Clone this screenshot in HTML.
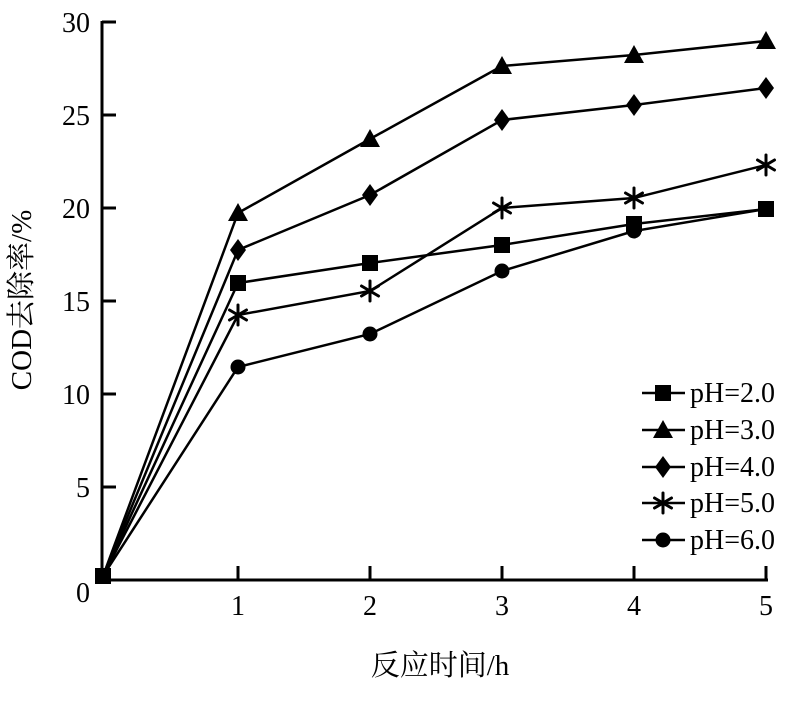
<!DOCTYPE html>
<html><head><meta charset="utf-8"><style>
html,body{margin:0;padding:0;background:#fff}
svg text{font-family:"Liberation Serif","Noto Serif CJK SC",serif;fill:#000}
</style></head><body>
<svg width="807" height="697" viewBox="0 0 807 697" xmlns="http://www.w3.org/2000/svg">
<defs>
<g id="sq"><rect x="-8" y="-8" width="16" height="16"/></g>
<g id="tri"><polygon points="0,-10 10,8 -10,8"/></g>
<g id="dia"><polygon points="0,-11 8,0 0,11 -8,0"/></g>
<g id="ast" stroke="#000" stroke-width="3" stroke-linecap="round"><line x1="0" y1="-10" x2="0" y2="10"/><line x1="-8.5" y1="-5" x2="8.5" y2="5"/><line x1="-8.5" y1="5" x2="8.5" y2="-5"/></g>
<g id="cir"><circle r="7.5"/></g>
</defs>
<g stroke="#000" stroke-width="3" fill="none">
<line x1="102" y1="21" x2="102" y2="580"/>
<line x1="100" y1="580" x2="768" y2="580"/>
<line x1="102" y1="22" x2="116" y2="22"/>
<line x1="102" y1="115" x2="116" y2="115"/>
<line x1="102" y1="208" x2="116" y2="208"/>
<line x1="102" y1="301" x2="116" y2="301"/>
<line x1="102" y1="394" x2="116" y2="394"/>
<line x1="102" y1="487" x2="116" y2="487"/>
<line x1="238" y1="566" x2="238" y2="580"/>
<line x1="370" y1="566" x2="370" y2="580"/>
<line x1="502" y1="566" x2="502" y2="580"/>
<line x1="634" y1="566" x2="634" y2="580"/>
<line x1="766" y1="566" x2="766" y2="580"/>
</g>
<g font-size="28" text-anchor="end">
<text x="90" y="32">30</text><text x="90" y="125">25</text><text x="90" y="218">20</text>
<text x="90" y="311">15</text><text x="90" y="404">10</text><text x="90" y="497">5</text><text x="90" y="602">0</text>
</g>
<g font-size="28" text-anchor="middle">
<text x="238" y="615">1</text><text x="370" y="615">2</text><text x="502" y="615">3</text><text x="634" y="615">4</text><text x="766" y="615">5</text>
<text x="440" y="675" font-size="29">反应时间/h</text>
<text transform="translate(31,300) rotate(-90)" font-size="29">COD去除率/%</text>
</g>
<g stroke="#000" stroke-width="2.5" fill="none">
<polyline points="103,576 238,283 370,263 502,245 634,224 766,209"/>
<polyline points="103,576 238,213 370,139 502,66 634,55 766,41"/>
<polyline points="103,576 238,250 370,195 502,120 634,105 766,88"/>
<polyline points="103,576 238,315 370,291 502,208 634,198 766,165"/>
<polyline points="103,576 238,367 370,334 502,271 634,231 766,209"/>
</g>
<use href="#sq" x="103" y="576"/>
<use href="#sq" x="238" y="283"/><use href="#sq" x="370" y="263"/><use href="#sq" x="502" y="245"/><use href="#sq" x="634" y="224"/><use href="#sq" x="766" y="209"/>
<use href="#tri" x="238" y="213"/><use href="#tri" x="370" y="139"/><use href="#tri" x="502" y="66"/><use href="#tri" x="634" y="55"/><use href="#tri" x="766" y="41"/>
<use href="#dia" x="238" y="250"/><use href="#dia" x="370" y="195"/><use href="#dia" x="502" y="120"/><use href="#dia" x="634" y="105"/><use href="#dia" x="766" y="88"/>
<use href="#ast" x="238" y="315"/><use href="#ast" x="370" y="291"/><use href="#ast" x="502" y="208"/><use href="#ast" x="634" y="198"/><use href="#ast" x="766" y="165"/>
<use href="#cir" x="238" y="367"/><use href="#cir" x="370" y="334"/><use href="#cir" x="502" y="271"/><use href="#cir" x="634" y="231"/><use href="#cir" x="766" y="209"/>
<g stroke="#000" stroke-width="2.5">
<line x1="642" y1="393" x2="685" y2="393"/><line x1="642" y1="430" x2="685" y2="430"/><line x1="642" y1="467" x2="685" y2="467"/><line x1="642" y1="503" x2="685" y2="503"/><line x1="642" y1="540" x2="685" y2="540"/>
</g>
<use href="#sq" x="663" y="393"/><use href="#tri" x="663" y="430"/><use href="#dia" x="663" y="467"/><use href="#ast" x="663" y="503"/><use href="#cir" x="663" y="540"/>
<g font-size="28">
<text x="690" y="402">pH=2.0</text><text x="690" y="439">pH=3.0</text><text x="690" y="476">pH=4.0</text><text x="690" y="512">pH=5.0</text><text x="690" y="549">pH=6.0</text>
</g>
</svg>
</body></html>
